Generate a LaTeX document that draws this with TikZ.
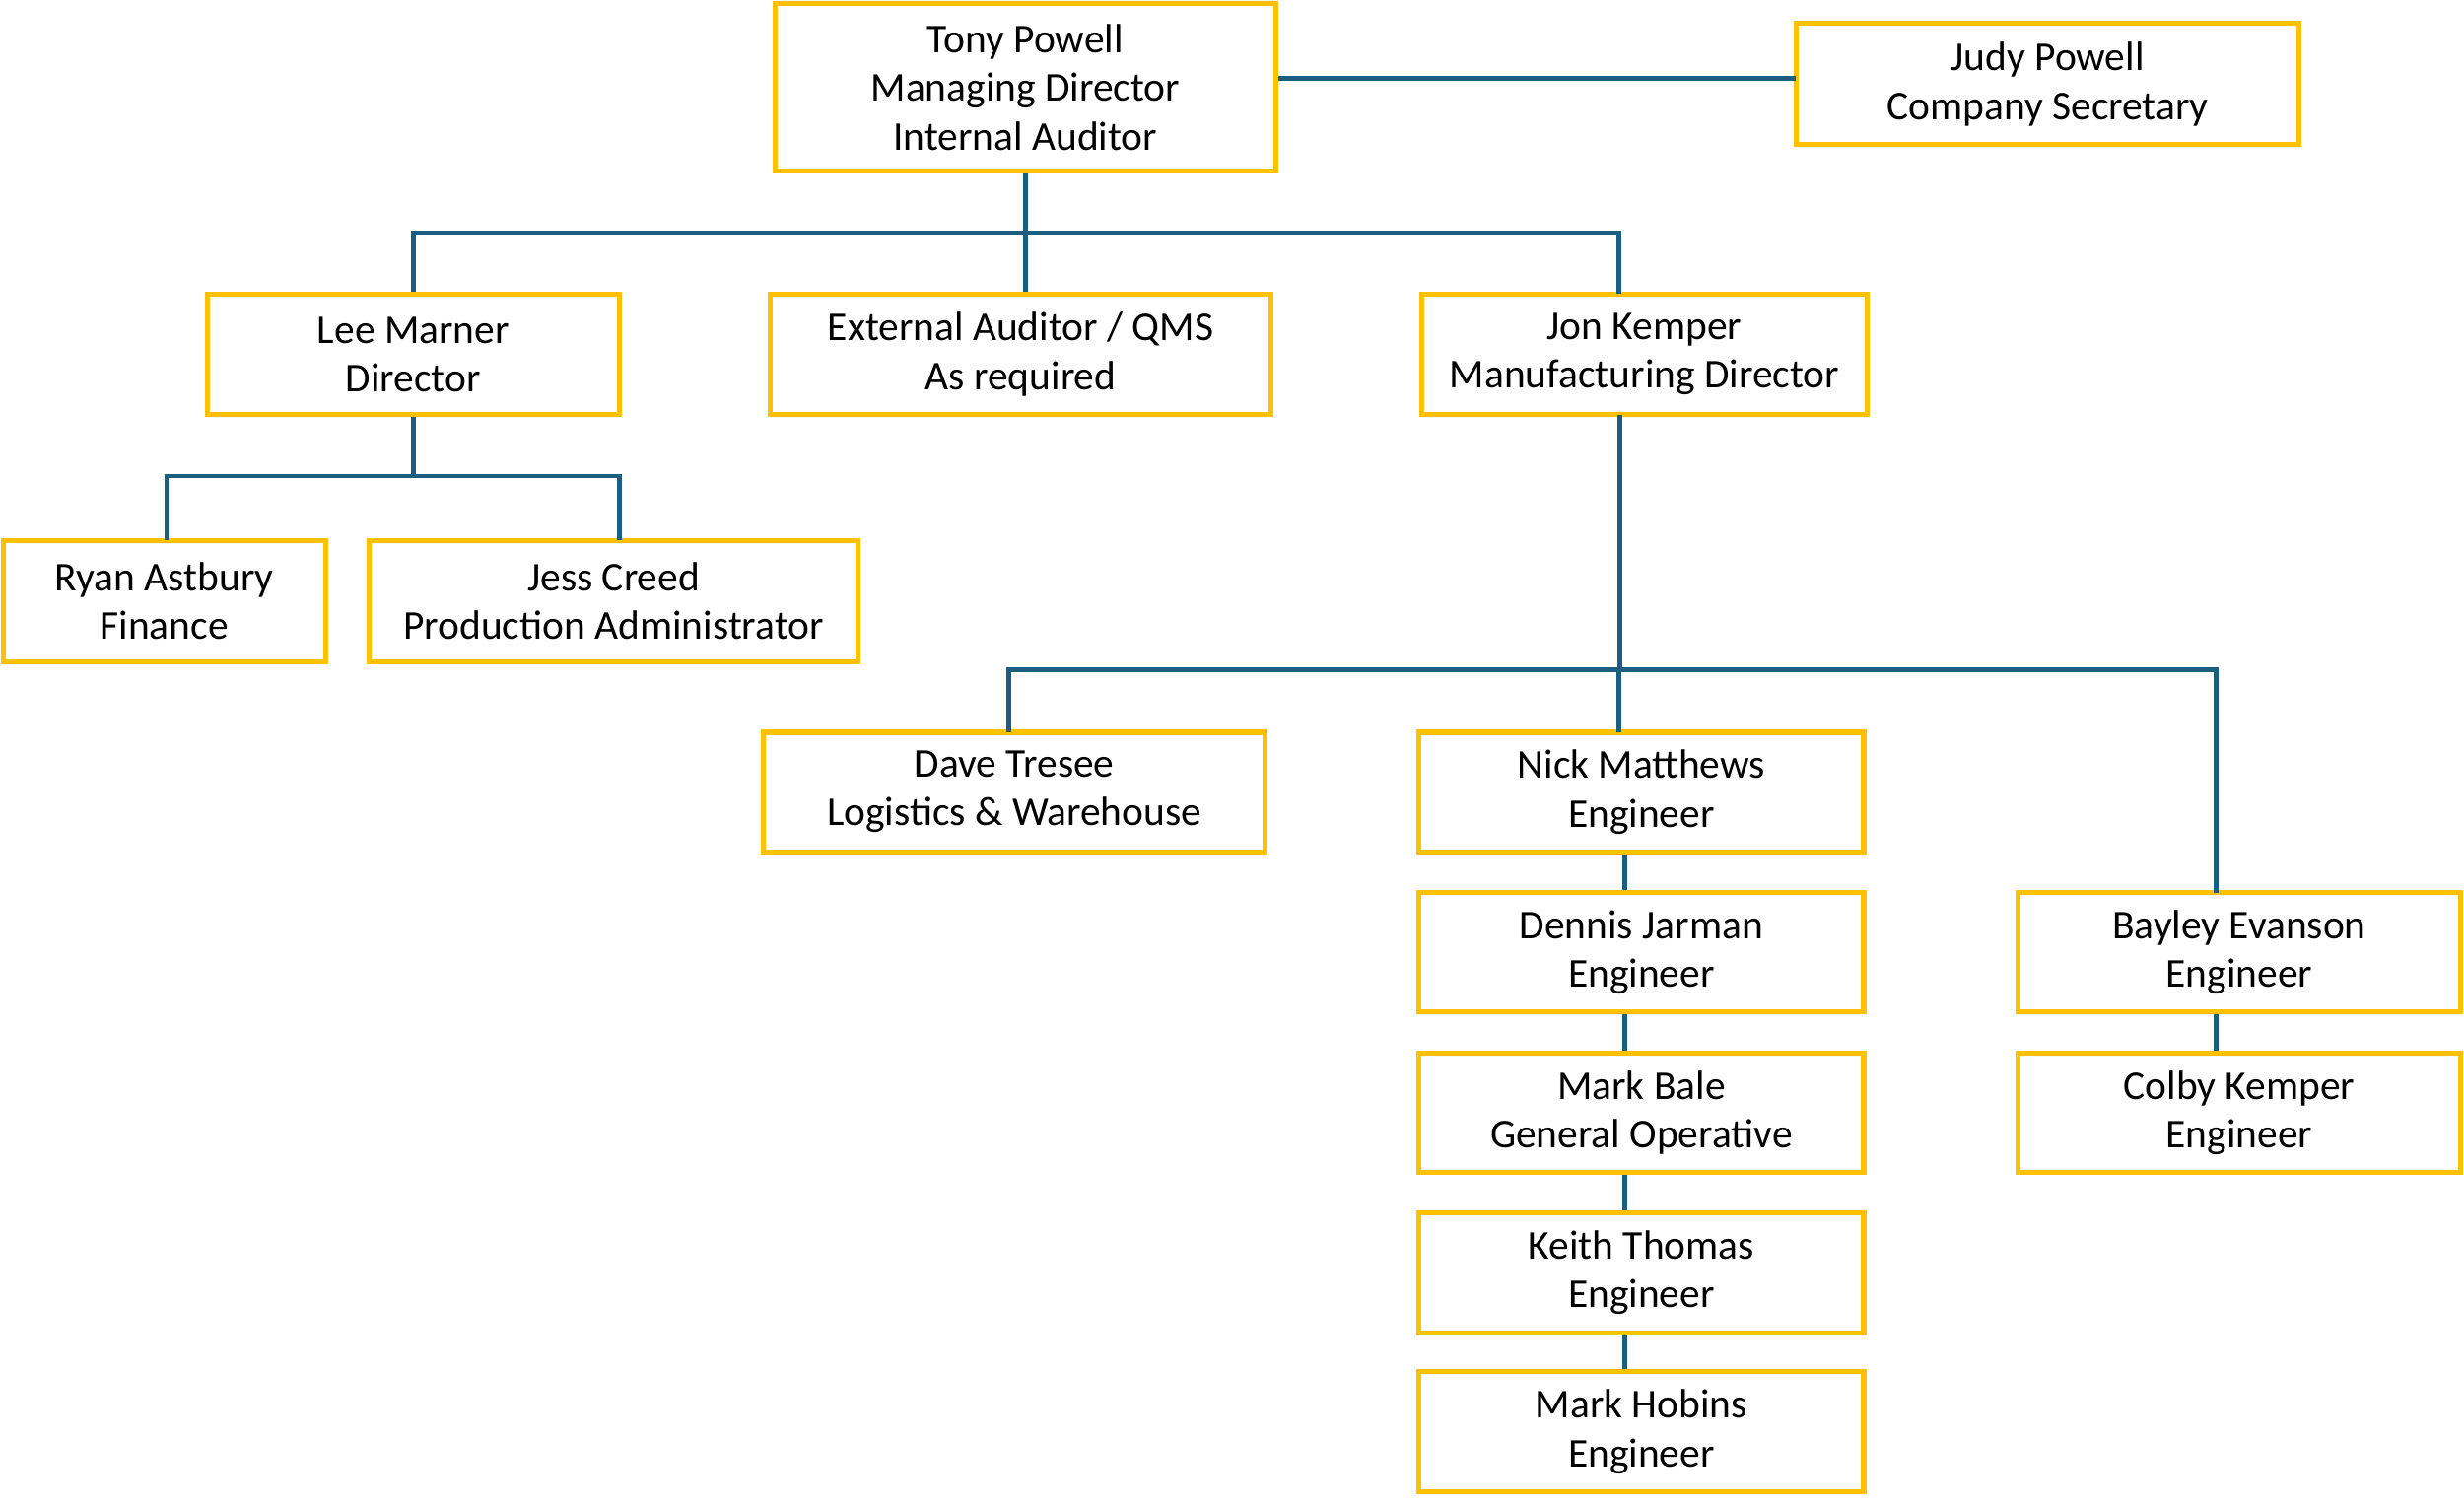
\documentclass[tikz,border=0pt]{standalone}
\usepackage{fontspec}
\setmainfont{Carlito}
\definecolor{boxyellow}{HTML}{FFC000}
\definecolor{linkblue}{HTML}{1B5E80}
\tikzset{
  box/.style={draw=boxyellow, line width=0.9pt, fill=white, inner sep=0pt, align=center,
    font=\fontsize{7.4}{8.8}\selectfont, minimum height=0.77cm},
  link/.style={draw=linkblue, line width=0.85pt}
}
\begin{document}
\begin{tikzpicture}
\useasboundingbox (0,0) rectangle (15.68,-9.58);
% boxes
\node[box, minimum width=3.19cm, minimum height=1.07cm] (tony) at (6.525,-0.555) {Tony Powell\\Managing Director\\Internal Auditor};
\node[box, minimum width=3.20cm] (judy) at (13.03,-0.535) {Judy Powell\\Company Secretary};
\node[box, minimum width=2.62cm] (lee) at (2.63,-2.255) {Lee Marner\\Director};
\node[box, minimum width=3.19cm] (ext) at (6.495,-2.255) {External Auditor / QMS\\As required};
\node[box, minimum width=2.83cm] (jon) at (10.465,-2.255) {Jon Kemper\\Manufacturing Director};
\node[box, minimum width=2.05cm] (ryan) at (1.045,-3.825) {Ryan Astbury\\Finance};
\node[box, minimum width=3.11cm] (jess) at (3.905,-3.825) {Jess Creed\\Production Administrator};
\node[box, minimum width=3.19cm, minimum height=0.76cm] (dave) at (6.455,-5.04) {Dave Tresee\\Logistics \& Warehouse};
\node[box, minimum width=2.83cm, minimum height=0.76cm] (nick) at (10.445,-5.04) {Nick Matthews\\Engineer};
\node[box, minimum width=2.83cm, minimum height=0.76cm] (dennis) at (10.445,-6.06) {Dennis Jarman\\Engineer};
\node[box, minimum width=2.83cm, minimum height=0.76cm] (bale) at (10.445,-7.08) {Mark Bale\\General Operative};
\node[box, minimum width=2.83cm, minimum height=0.76cm] (keith) at (10.445,-8.10) {Keith Thomas\\Engineer};
\node[box, minimum width=2.83cm, minimum height=0.76cm] (hobins) at (10.445,-9.11) {Mark Hobins\\Engineer};
\node[box, minimum width=2.82cm, minimum height=0.76cm] (bayley) at (14.25,-6.06) {Bayley Evanson\\Engineer};
\node[box, minimum width=2.82cm, minimum height=0.76cm] (colby) at (14.25,-7.08) {Colby Kemper\\Engineer};
% helper coordinates
\coordinate (judyin) at (11.43,-0.50);
\coordinate (bar1) at (0,-1.48);
\coordinate (jontop) at (10.30,-1.87);
\coordinate (bar2) at (0,-3.03);
\coordinate (ryantop) at (1.06,-3.44);
\coordinate (jesstop) at (3.94,-3.44);
\coordinate (jonbot) at (10.31,-2.64);
\coordinate (bar3) at (0,-4.26);
\coordinate (davetop) at (6.42,-4.66);
\coordinate (nicktop) at (10.30,-4.66);
\coordinate (bayleytop) at (14.10,-5.68);
\coordinate (chain) at (10.34,0);
\coordinate (chainb) at (14.10,0);
% connectors
\draw[link] (tony.east|-judyin) -- (judyin);
\draw[link] (tony.south) -- (tony.south|-ext.north);
\draw[link] (lee.north) -- (lee.north|-bar1) -- (jontop|-bar1) -- (jontop);
\draw[link] (lee.south) -- (lee.south|-bar2);
\draw[link] (ryantop) -- (ryantop|-bar2) -- (jesstop|-bar2) -- (jesstop);
\draw[link] (jonbot) -- (jonbot|-bar3);
\draw[link] (davetop) -- (davetop|-bar3) -- (bayleytop|-bar3) -- (bayleytop);
\draw[link] (nicktop|-bar3) -- (nicktop);
\draw[link] (chain|-nick.south) -- (chain|-dennis.north);
\draw[link] (chain|-dennis.south) -- (chain|-bale.north);
\draw[link] (chain|-bale.south) -- (chain|-keith.north);
\draw[link] (chain|-keith.south) -- (chain|-hobins.north);
\draw[link] (chainb|-bayley.south) -- (chainb|-colby.north);
\end{tikzpicture}
\end{document}
